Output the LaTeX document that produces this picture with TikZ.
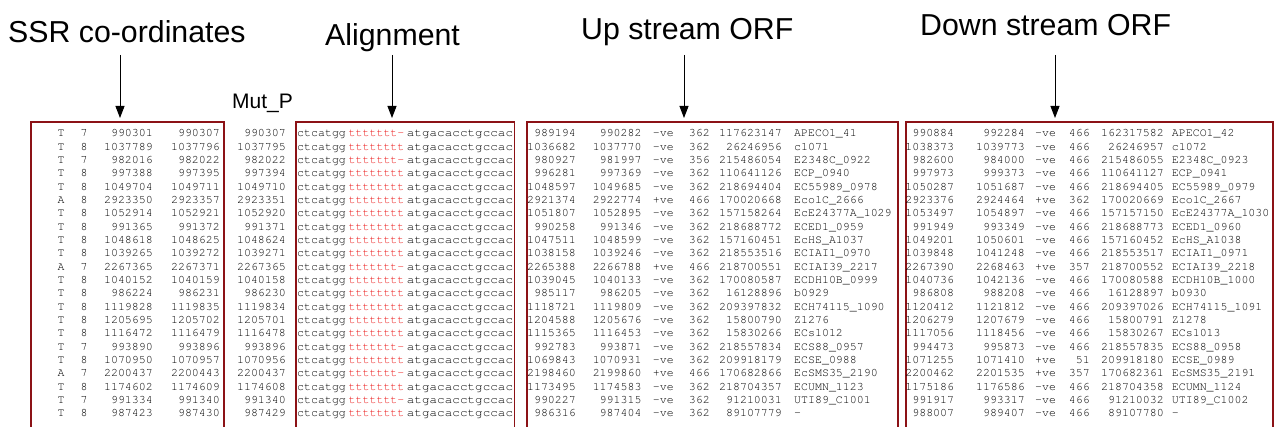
\documentclass[tikz,border=0pt]{standalone}
\usepackage[T1,TU]{fontenc}
\usepackage{fontspec}
\setmainfont{Liberation Sans}
\usetikzlibrary{arrows.meta}
\newcommand\courtext{\fontencoding{T1}\fontfamily{pcr}\fontsize{11.6}{12}\selectfont}
\definecolor{boxred}{RGB}{140,18,22}
\definecolor{seqred}{RGB}{235,20,20}
\tikzset{
  mono/.style={font=\courtext, text=black, inner sep=0pt},
  monoR/.style={mono, anchor=base east},
  monoL/.style={mono, anchor=base west},
  header/.style={font=\fontsize{30.3}{33}\selectfont, inner sep=0pt, anchor=base west},
  panel/.style={draw=boxred, line width=1.5pt},
  pointer/.style={line width=0.9pt, -{Triangle[length=12pt,width=9pt]}}
}
\begin{document}
\begin{tikzpicture}[x=1pt,y=-1pt]
\useasboundingbox (0,0) rectangle (1278,427);

% column headings
\node[header] (hSSR) at (8,43) {SSR co-ordinates};
\node[header] (hAli) at (325,46) {Alignment};
\node[header] (hUp) at (581,39.5) {Up stream ORF};
\node[header] (hDown) at (920,35.5) {Down stream ORF};
\node[font=\fontsize{21}{23}\selectfont, inner sep=0pt, anchor=base west] (hMut) at (232,109) {Mut\_P};

% panels (open at the bottom, running off the page)
\draw[panel] (31,430) |- (224,122) -- (224,430);
\draw[panel] (296,430) |- (514.5,122) -- (514.5,430);
\draw[panel] (527,430) |- (898,122) -- (898,430);
\draw[panel] (906,430) |- (1273,122) -- (1273,430);

% pointers from the headings to the panels
\coordinate (pSSRa) at (120,55);  \coordinate (pSSRb) at (120,118);
\coordinate (pAlia) at (392,55);  \coordinate (pAlib) at (392,118);
\coordinate (pUpa) at (684,55);   \coordinate (pUpb) at (684,118);
\coordinate (pDowna) at (1055,55); \coordinate (pDownb) at (1055,118);
\draw[pointer] (pSSRa) -- (pSSRb);
\draw[pointer] (pAlia) -- (pAlib);
\draw[pointer] (pUpa) -- (pUpb);
\draw[pointer] (pDowna) -- (pDownb);

% SSR co-ordinates and mutant position
\foreach [count=\i] \b/\n/\s/\e/\m in {
  T/7/990301/990307/990307, T/8/1037789/1037796/1037795, T/7/982016/982022/982022,
  T/8/997388/997395/997394, T/8/1049704/1049711/1049710, A/8/2923350/2923357/2923351,
  T/8/1052914/1052921/1052920, T/8/991365/991372/991371, T/8/1048618/1048625/1048624,
  T/8/1039265/1039272/1039271, A/7/2267365/2267371/2267365, T/8/1040152/1040159/1040158,
  T/8/986224/986231/986230, T/8/1119828/1119835/1119834, T/8/1205695/1205702/1205701,
  T/8/1116472/1116479/1116478, T/7/993890/993896/993896, T/8/1070950/1070957/1070956,
  A/7/2200437/2200443/2200437, T/8/1174602/1174609/1174608, T/7/991334/991340/991340,
  T/8/987423/987430/987429} {
  \pgfmathsetmacro\yy{136.8+(\i-1)*13.333}
  \node[mono, anchor=base] (s\i-b) at (61,\yy) {\b};
  \node[mono, anchor=base] (s\i-n) at (84,\yy) {\n};
  \node[monoR] (s\i-s) at (153,\yy) {\s};
  \node[monoR] (s\i-e) at (220,\yy) {\e};
  \node[monoR] (m\i) at (286,\yy) {\m};
  % alignment: flank, repeat tract, flank
  \node[monoL] (a\i-l) at (297,\yy) {ctcatgg};
  \ifnum\n=7
    \node[monoL, text=seqred] (a\i-r) at (348.5,\yy) {ttttttt-};
  \else
    \node[monoL, text=seqred] (a\i-r) at (348.5,\yy) {tttttttt};
  \fi
  \node[monoL] (a\i-f) at (406.7,\yy) {\scalebox{1.09}[1]{atgacacctgccac}};
}

% upstream ORFs
\foreach [count=\i] \p/\q/\d/\l/\g/\t in {
  989194/990282/-ve/362/117623147/APECO1\_41,
  1036682/1037770/-ve/362/26246956/c1071,
  980927/981997/-ve/356/215486054/E2348C\_0922,
  996281/997369/-ve/362/110641126/ECP\_0940,
  1048597/1049685/-ve/362/218694404/EC55989\_0978,
  2921374/2922774/+ve/466/170020668/EcolC\_2666,
  1051807/1052895/-ve/362/157158264/EcE24377A\_1029,
  990258/991346/-ve/362/218688772/ECED1\_0959,
  1047511/1048599/-ve/362/157160451/EcHS\_A1037,
  1038158/1039246/-ve/362/218553516/ECIAI1\_0970,
  2265388/2266788/+ve/466/218700551/ECIAI39\_2217,
  1039045/1040133/-ve/362/170080587/ECDH10B\_0999,
  985117/986205/-ve/362/16128896/b0929,
  1118721/1119809/-ve/362/209397832/ECH74115\_1090,
  1204588/1205676/-ve/362/15800790/Z1276,
  1115365/1116453/-ve/362/15830266/ECs1012,
  992783/993871/-ve/362/218557834/ECS88\_0957,
  1069843/1070931/-ve/362/209918179/ECSE\_0988,
  2198460/2199860/+ve/466/170682866/EcSMS35\_2190,
  1173495/1174583/-ve/362/218704357/ECUMN\_1123,
  990227/991315/-ve/362/91210031/UTI89\_C1001,
  986316/987404/-ve/362/89107779/-} {
  \pgfmathsetmacro\yy{136.8+(\i-1)*13.333}
  \node[monoR] (u\i-1) at (576,\yy) {\p};
  \node[monoR] (u\i-2) at (641.7,\yy) {\q};
  \node[monoL] (u\i-3) at (652.7,\yy) {\d};
  \node[monoR] (u\i-4) at (710,\yy) {\l};
  \node[monoR] (u\i-5) at (782,\yy) {\g};
  \node[monoL] (u\i-6) at (794,\yy) {\t};
}

% downstream ORFs
\foreach [count=\i] \p/\q/\d/\l/\g/\t in {
  990884/992284/-ve/466/162317582/APECO1\_42,
  1038373/1039773/-ve/466/26246957/c1072,
  982600/984000/-ve/466/215486055/E2348C\_0923,
  997973/999373/-ve/466/110641127/ECP\_0941,
  1050287/1051687/-ve/466/218694405/EC55989\_0979,
  2923376/2924464/+ve/362/170020669/EcolC\_2667,
  1053497/1054897/-ve/466/157157150/EcE24377A\_1030,
  991949/993349/-ve/466/218688773/ECED1\_0960,
  1049201/1050601/-ve/466/157160452/EcHS\_A1038,
  1039848/1041248/-ve/466/218553517/ECIAI1\_0971,
  2267390/2268463/+ve/357/218700552/ECIAI39\_2218,
  1040736/1042136/-ve/466/170080588/ECDH10B\_1000,
  986808/988208/-ve/466/16128897/b0930,
  1120412/1121812/-ve/466/209397026/ECH74115\_1091,
  1206279/1207679/-ve/466/15800791/Z1278,
  1117056/1118456/-ve/466/15830267/ECs1013,
  994473/995873/-ve/466/218557835/ECS88\_0958,
  1071255/1071410/+ve/51/209918180/ECSE\_0989,
  2200462/2201535/+ve/357/170682361/EcSMS35\_2191,
  1175186/1176586/-ve/466/218704358/ECUMN\_1124,
  991917/993317/-ve/466/91210032/UTI89\_C1002,
  988007/989407/-ve/466/89107780/-} {
  \pgfmathsetmacro\yy{136.8+(\i-1)*13.333}
  \node[monoR] (d\i-1) at (954.3,\yy) {\p};
  \node[monoR] (d\i-2) at (1025,\yy) {\q};
  \node[monoL] (d\i-3) at (1035,\yy) {\d};
  \node[monoR] (d\i-4) at (1090,\yy) {\l};
  \node[monoR] (d\i-5) at (1164,\yy) {\g};
  \node[monoL] (d\i-6) at (1171.7,\yy) {\t};
}
\end{tikzpicture}
\end{document}
